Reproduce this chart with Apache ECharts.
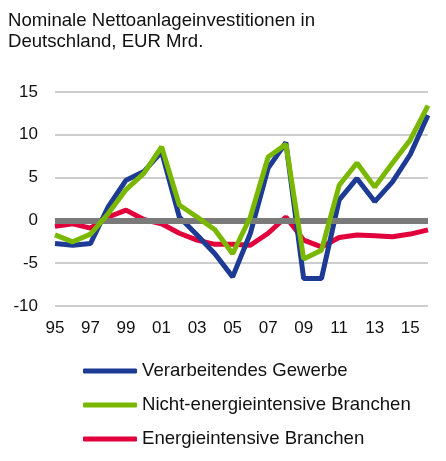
<!DOCTYPE html>
<html>
<head>
<meta charset="utf-8">
<script src="https://cdn.jsdelivr.net/npm/echarts@6/dist/echarts.min.js"></script>
<style>
  html, body { margin: 0; padding: 0; background: #fff; }
  #chart { width: 446px; height: 461px; }
</style>
</head>
<body>
<div id="chart"></div>
<script>
var years = ['95','96','97','98','99','00','01','02','03','04','05',
             '06','07','08','09','10','11','12','13','14','15','16'];
var verarbeitend = [-2.7,-2.9,-2.7,1.6,4.7,5.7,8.0,0.4,-1.7,-3.9,-6.6,
                    -1.5,6.1,9.1,-6.8,-6.8,2.4,4.9,2.2,4.5,7.7,12.3];
var nichtEnergie = [-1.7,-2.5,-1.6,0.8,3.6,5.5,8.6,1.8,0.4,-1.1,-3.9,
                    0.4,7.4,8.9,-4.5,-3.5,4.1,6.7,3.9,6.7,9.4,13.4];
var energie      = [-0.7,-0.4,-0.9,0.4,1.2,0.1,-0.4,-1.5,-2.3,-2.8,-2.8,
                    -2.9,-1.5,0.4,-2.3,-3.1,-2.0,-1.7,-1.8,-1.9,-1.6,-1.1];
var names = ['Verarbeitendes Gewerbe', 'Nicht-energieintensive Branchen', 'Energieintensive Branchen'];

var font = 'Liberation Sans, Arial, sans-serif';
var myChart = echarts.init(document.getElementById('chart'));

function lineSeries(name, data, color, z) {
    return {
        name      : name,
        type      : 'line',
        data      : data,
        symbol    : 'none',
        z         : z,
        lineStyle : { color: color, width: 5 },
        itemStyle : { color: color }
    };
}

var option = {
    animation: false,
    title: {
        text: 'Nominale Nettoanlageinvestitionen in\nDeutschland, EUR Mrd.',
        left: 3,
        top: 5,
        textStyle: { fontFamily: font, fontSize: 18.6, fontWeight: 'normal', color: '#111', lineHeight: 21 }
    },
    legend: {
        data: names,
        orient: 'vertical',
        left: 78,
        top: 356,
        icon: 'roundRect',
        itemWidth: 54,
        itemHeight: 5,
        itemGap: 14,
        textStyle: { fontFamily: font, fontSize: 18.6, color: '#111', lineHeight: 20 }
    },
    grid: {
        left: 55,
        right: 18,
        top: 92,
        bottom: 155,
        containLabel: false
    },
    xAxis: {
        type: 'category',
        data: years,
        boundaryGap: false,
        axisLine: { show: false },
        axisTick: { show: false },
        axisLabel: { interval: 1, fontFamily: font, fontSize: 17, color: '#111', margin: 14 }
    },
    yAxis: {
        type: 'value',
        min: -10,
        max: 15,
        interval: 5,
        axisLine: { show: false },
        axisTick: { show: false },
        axisLabel: { fontFamily: font, fontSize: 17, color: '#111', margin: 17 },
        splitLine: { lineStyle: { color: '#bdbdbd', width: 1.5 } }
    },
    series: [
        {
            name: 'zero',
            type: 'line',
            data: [],
            z: 1,
            markLine: {
                silent: true,
                symbol: 'none',
                label: { show: false },
                lineStyle: { color: '#7a7a7a', width: 6, type: 'solid' },
                data: [{ yAxis: 0 }]
            }
        },
        lineSeries(names[2], energie, '#e1003c', 3),
        lineSeries(names[0], verarbeitend, '#1d3a94', 4),
        lineSeries(names[1], nichtEnergie, '#7ab800', 5)
    ]
};

myChart.setOption(option, true);
</script>
</body>
</html>
